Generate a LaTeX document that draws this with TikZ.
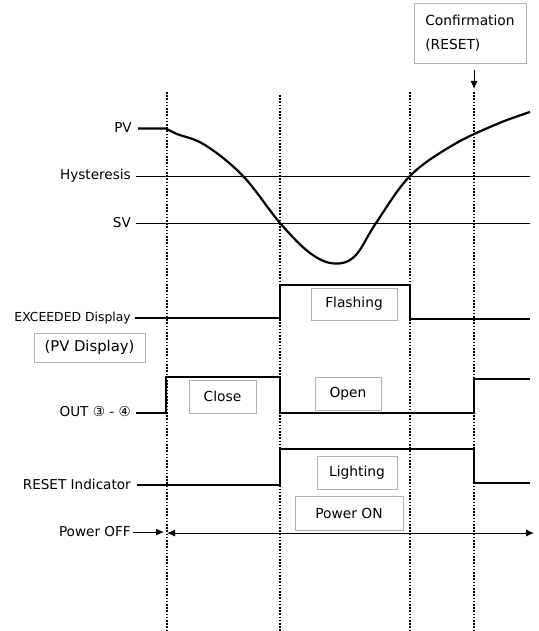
\documentclass[tikz,border=0pt]{standalone}
\usepackage{fontspec}
\setmainfont{DejaVu Sans}
\usetikzlibrary{arrows.meta}
\begin{document}
\begin{tikzpicture}[x=1pt,y=-1pt,
  lbl/.style={anchor=east,inner sep=0pt,font=\fontsize{13.6}{16}\selectfont},
  gbox/.style={draw=black!30,line width=0.8pt,inner sep=0pt,font=\fontsize{13.8}{16}\selectfont},
  sig/.style={line width=1.2pt},
  thin/.style={line width=0.9pt},
  tip/.style={-{Latex[length=8pt,width=7pt]}},
  vdot/.style={line width=1.8pt,dash pattern=on 1.6pt off 1.6pt},
  curve/.style={line width=2.2pt,line join=round}]
\useasboundingbox (0,0) rectangle (538,631);
% vertical dotted lines
\coordinate (v1t) at (167,92); \coordinate (v1b) at (167,631);
\coordinate (v2t) at (280,95); \coordinate (v2b) at (280,631);
\coordinate (v3t) at (410,92); \coordinate (v3b) at (410,631);
\coordinate (v4t) at (474,92); \coordinate (v4b) at (474,631);
\draw[vdot] (v1t) -- (v1b);
\draw[vdot] (v2t) -- (v2b);
\draw[vdot] (v3t) -- (v3b);
\draw[vdot] (v4t) -- (v4b);
% labels
\node[lbl] (pv) at (132,128) {PV};
\node[lbl] (hys) at (131,176) {Hysteresis};
\node[lbl] (sv) at (131,223) {SV};
\node[lbl,font=\fontsize{12.4}{14}\selectfont] (exc) at (131,318) {EXCEEDED Display};
\node[lbl] (out) at (131,412) {OUT ③ - ④};
\node[lbl] (rst) at (131,484) {RESET Indicator};
\node[lbl] (poff) at (131,532) {Power OFF};
% boxes
\node[gbox,minimum width=111pt,minimum height=29pt,font=\fontsize{14.8}{17}\selectfont] (pvd) at (89.5,347.5) {(PV Display)};
\node[gbox,minimum width=86pt,minimum height=32pt] (fl) at (354,304) {Flashing};
\node[gbox,minimum width=67pt,minimum height=33pt] (cl) at (222.5,396.5) {Close};
\node[gbox,minimum width=66pt,minimum height=33pt] (op) at (348,393.5) {Open};
\node[gbox,minimum width=80pt,minimum height=33pt] (li) at (357,472.5) {Lighting};
\node[gbox,minimum width=108pt,minimum height=34pt] (pon) at (349,513) {Power ON};
\node[gbox,minimum width=112pt,minimum height=60pt,align=left] (conf) at (470,33) {Confirmation\\[8pt](RESET)};
% confirmation arrow
\coordinate (ca) at (474,70);
\coordinate (cb) at (474,89);
\draw[thin,tip] (ca) -- (cb);
% horizontal lines
\draw[thin] (hys.east) ++(5,0) -- (530,176);
\draw[thin] (sv.east) ++(5,0) -- (530,223);
% PV curve
\draw[curve] (138,128.5) -- (166,128.5) plot[smooth,tension=0.6] coordinates {(166,128.5) (177,134) (205,145) (243,176) (280,223) (310,253) (334,263.5) (355,256) (376,223) (410,176) (453,145) (497,124) (530,112)};
% EXCEEDED
\draw[sig] (135,318) -- (280,318) -- (280,285) -- (410,285) -- (410,319) -- (530,319);
% OUT
\draw[sig] (136,413) -- (166,413) -- (166,377) -- (280,377) -- (280,413) -- (474,413) -- (474,379) -- (530,379);
% RESET indicator
\draw[sig] (137,485) -- (280,485) -- (280,449) -- (474,449) -- (474,483) -- (530,483);
% power arrows
\coordinate (pa) at (164,532);
\draw[thin,tip] (poff.east) ++(2,0) -- (pa);
\coordinate (pl) at (167,533);
\coordinate (pr) at (534,533);
\draw[thin,{Latex[length=8pt,width=7pt]}-{Latex[length=8pt,width=7pt]}] (pl) -- (pr);
\end{tikzpicture}
\end{document}
